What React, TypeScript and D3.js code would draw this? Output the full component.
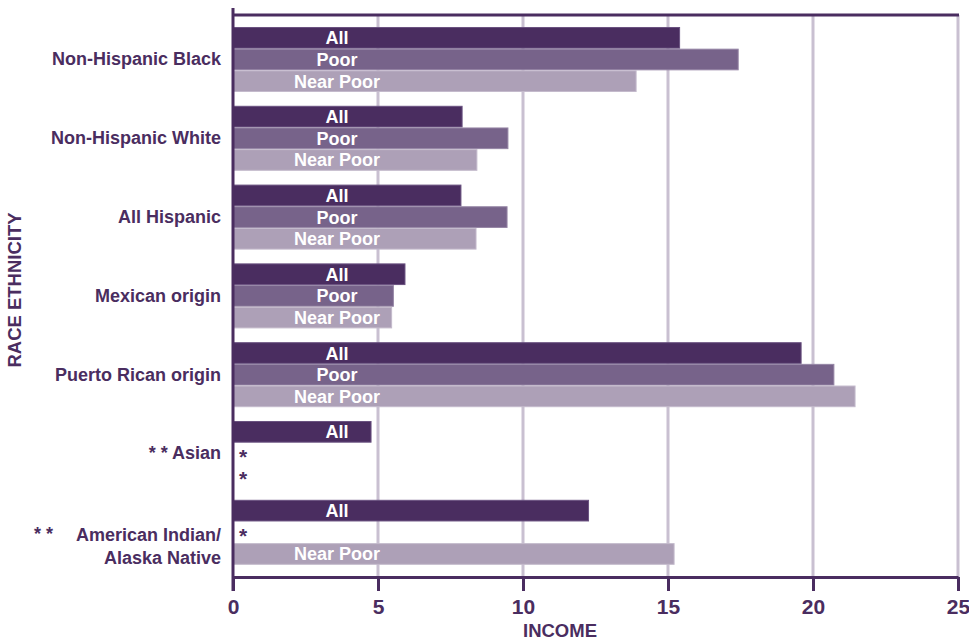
import React, { useEffect, useRef } from 'react';
import * as d3 from 'd3';

const categories = [
  'Non-Hispanic Black',
  'Non-Hispanic White',
  'All Hispanic',
  'Mexican origin',
  'Puerto Rican origin',
  'Asian',
  'American Indian/Alaska Native',
];
const seriesNames = ['All', 'Poor', 'Near Poor'];
// null = estimate not shown (marked with *)
const allValues = [15.4, 7.9, 7.86, 5.93, 19.59, 4.76, 12.26];
const poorValues: (number | null)[] = [17.42, 9.48, 9.45, 5.53, 20.72, null, null];
const nearPoorValues: (number | null)[] = [13.9, 8.41, 8.38, 5.47, 21.45, null, 15.21];
const xTicks = [0, 5, 10, 15, 20, 25];

const DARK = '#4a2d60';
const colors = ['#4a2d60', '#77638a', '#ada0b7'];
const edge = ['#6a5280', '#9585a5', '#c4bacc'];
const GRID = '#c9c0d1';
const FONT = '"Liberation Sans", Arial, sans-serif';

export default function App() {
  const svgRef = useRef<SVGSVGElement>(null);

  useEffect(() => {
    if (!svgRef.current) return;
    const svg = d3.select(svgRef.current);
    svg.selectAll('*').remove();

    const left = 233, right = 958, top = 15, bottom = 577;

    const x = d3.scaleLinear().domain([0, 25]).range([left, right]);
    const y = d3.scaleBand<string>()
      .domain(categories)
      .range([20.1, 571.7])
      .paddingInner(0.175)
      .paddingOuter(0.0875);
    const ySub = d3.scaleBand<string>().domain(seriesNames).range([0, y.bandwidth()]);

    // gridlines
    svg.append('g')
      .selectAll('line')
      .data(xTicks.slice(1))
      .join('line')
      .attr('x1', d => x(d)).attr('x2', d => x(d))
      .attr('y1', top).attr('y2', bottom)
      .attr('stroke', GRID).attr('stroke-width', 3);

    // top border
    svg.append('line')
      .attr('x1', left - 1).attr('x2', right + 1)
      .attr('y1', top).attr('y2', top)
      .attr('stroke', DARK).attr('stroke-width', 3);

    const series = [allValues, poorValues, nearPoorValues];

    categories.forEach((cat, ci) => {
      const g = svg.append('g').attr('transform', `translate(0,${y(cat)})`);
      series.forEach((vals, si) => {
        const v = vals[ci];
        const name = seriesNames[si];
        const by = ySub(name)!;
        const bh = ySub.bandwidth();
        if (v == null) {
          g.append('text')
            .attr('x', left + 6)
            .attr('y', by + bh / 2 + 11)
            .attr('fill', DARK)
            .attr('font-family', FONT)
            .attr('font-weight', 'bold')
            .attr('font-size', 21)
            .text('*');
          return;
        }
        g.append('rect')
          .attr('x', x(0))
          .attr('y', by + 0.5)
          .attr('width', x(v) - x(0))
          .attr('height', bh - 1)
          .attr('fill', colors[si])
          .attr('stroke', edge[si])
          .attr('stroke-width', 1);
        g.append('text')
          .attr('x', left + 104)
          .attr('y', by + bh / 2 + 6.5)
          .attr('text-anchor', 'middle')
          .attr('fill', '#ffffff')
          .attr('font-family', FONT)
          .attr('font-weight', 'bold')
          .attr('font-size', 18)
          .text(name);
      });

      // category label
      const cy = y.bandwidth() / 2;
      const label = g.append('text')
        .attr('text-anchor', 'end')
        .attr('fill', DARK)
        .attr('font-family', FONT)
        .attr('font-weight', 'bold')
        .attr('font-size', 18);
      if (cat === 'Asian') {
        label.attr('x', 221).attr('y', cy + 6).text('* * Asian');
      } else if (cat.includes('/')) {
        const [l1, l2] = cat.split('/');
        label.append('tspan').attr('x', 221).attr('y', cy + 9).text(l1 + '/');
        label.append('tspan').attr('x', 221).attr('y', cy + 32).text(l2);
        g.append('text')
          .attr('x', 34).attr('y', cy + 8)
          .attr('fill', DARK)
          .attr('font-family', FONT)
          .attr('font-weight', 'bold')
          .attr('font-size', 18)
          .text('* *');
      } else {
        label.attr('x', 221).attr('y', cy + 6).text(cat);
      }
    });

    // left axis
    svg.append('line')
      .attr('x1', left).attr('x2', left)
      .attr('y1', 8).attr('y2', bottom + 14)
      .attr('stroke', DARK).attr('stroke-width', 3);

    // bottom axis
    const xAxis = d3.axisBottom(x).tickValues(xTicks).tickSize(14).tickSizeOuter(0);
    const ax = svg.append('g').attr('transform', `translate(0,${bottom})`).call(xAxis);
    ax.select('.domain').attr('stroke', DARK).attr('stroke-width', 3);
    ax.selectAll('.tick line').attr('stroke', DARK).attr('stroke-width', 3);
    ax.selectAll('.tick text')
      .attr('fill', DARK)
      .attr('font-family', FONT)
      .attr('font-weight', 'bold')
      .attr('font-size', 21)
      .attr('dy', 0)
      .attr('y', 37);

    // axis titles
    svg.append('text')
      .attr('x', 560).attr('y', 637)
      .attr('text-anchor', 'middle')
      .attr('fill', DARK)
      .attr('font-family', FONT)
      .attr('font-weight', 'bold')
      .attr('font-size', 18.5)
      .text('INCOME');

    svg.append('text')
      .attr('transform', 'translate(21,290) rotate(-90)')
      .attr('text-anchor', 'middle')
      .attr('fill', DARK)
      .attr('font-family', FONT)
      .attr('font-weight', 'bold')
      .attr('font-size', 18.5)
      .text('RACE ETHNICITY');
  }, []);

  return (
    <svg
      ref={svgRef}
      width={969}
      height={642}
      style={{ position: 'absolute', left: 0, top: 0, background: '#fff' }}
    />
  );
}
